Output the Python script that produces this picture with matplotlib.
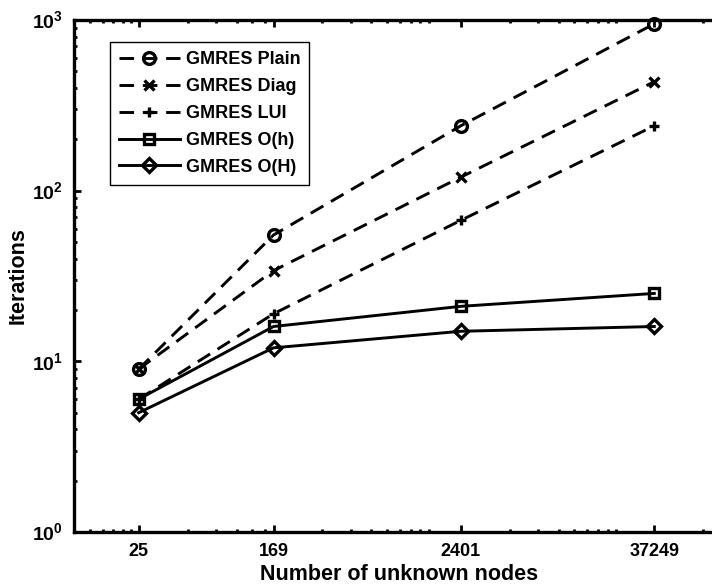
import numpy as np
import matplotlib
matplotlib.use("Agg")
import matplotlib.pyplot as plt
from matplotlib.ticker import FixedLocator, NullFormatter

plt.rcParams['font.family'] = ['Liberation Sans', 'DejaVu Sans']
plt.rcParams['font.weight'] = 'bold'
plt.rcParams['mathtext.fontset'] = 'custom'
plt.rcParams['mathtext.rm'] = 'Liberation Sans:bold'
plt.rcParams['mathtext.bf'] = 'Liberation Sans:bold'

# datos
nodes = [25, 169, 2401, 37249]
node_labels = ['25', '169', '2401', '37249']
gmres_plain = [9, 55, 240, 950]
gmres_diag = [9, 34, 120, 435]
gmres_lui = [6, 19, 67, 240]
gmres_oh = [6, 16, 21, 25]
gmres_oH = [5, 12, 15, 16]

fig = plt.figure(figsize=(7.12, 5.85), dpi=100)
# el eje derecho queda fuera de la imagen, como en la original
ax = fig.add_axes([74 / 712, 1 - 532 / 585, 650 / 712, 512 / 585])

lw = 2.1
dash = (5, 3)
common = dict(color='k', lw=lw, mfc='none', mec='k', mew=2.4, clip_on=False)

ax.plot(nodes, gmres_plain, ls='--', dashes=dash, marker='o', ms=8.5,
        label='GMRES Plain', **common)
ax.plot(nodes, gmres_diag, ls='--', dashes=dash, marker='x', ms=6.5,
        label='GMRES Diag', **common)
ax.plot(nodes, gmres_lui, ls='--', dashes=dash, marker='+', ms=7.5,
        label='GMRES LUI', **common)
ax.plot(nodes, gmres_oh, ls='-', marker='s', ms=7.5,
        label='GMRES O(h)', **common)
ax.plot(nodes, gmres_oH, ls='-', marker='D', ms=7.5,
        label='GMRES O(H)', **common)

ax.set_xscale('log')
ax.set_yscale('log')
ax.set_xlim(10, 1e5)
ax.set_ylim(1, 1000)

# ticks menores como los pone MATLAB: multiplos de cada tick mayor
minor = []
edges = [nodes[0] / 10] + nodes + [ax.get_xlim()[1]]
for t, nxt in zip(edges[:-1], edges[1:]):
    for m in range(2, 10):
        v = t * m
        if v < nxt and v > ax.get_xlim()[0]:
            minor.append(v)
ax.xaxis.set_major_locator(FixedLocator(nodes))
ax.xaxis.set_minor_locator(FixedLocator(minor))
ax.set_xticklabels(node_labels)
ax.xaxis.set_minor_formatter(NullFormatter())

ax.set_yticks([1, 10, 100, 1000])
ax.set_yticklabels([r'$10^{0}$', r'$10^{1}$', r'$10^{2}$', r'$10^{3}$'])

for s in ax.spines.values():
    s.set_linewidth(2.4)
ax.spines['right'].set_visible(False)
ax.tick_params(which='both', direction='in', top=True, right=False,
               width=2.0)
ax.tick_params(axis='x', labelsize=13)
ax.tick_params(axis='y', labelsize=14)
ax.tick_params(which='major', length=5, pad=8)
ax.tick_params(which='minor', length=2.5)
for lab in ax.get_xticklabels() + ax.get_yticklabels():
    lab.set_fontweight('bold')

ax.set_xlabel('Number of unknown nodes', fontsize=15.5, fontweight='bold', labelpad=3)
ax.set_ylabel('Iterations', fontsize=15.5, fontweight='bold', labelpad=2)

leg = ax.legend(loc='upper left', bbox_to_anchor=(0.055, 0.957),
                borderaxespad=0, fancybox=False, framealpha=1,
                edgecolor='k', handlelength=3.4, handletextpad=0.3,
                labelspacing=0.55, borderpad=0.5,
                prop={'size': 13, 'weight': 'bold'})
leg.get_frame().set_linewidth(1.0)

fig.savefig('out.png', dpi=100)
